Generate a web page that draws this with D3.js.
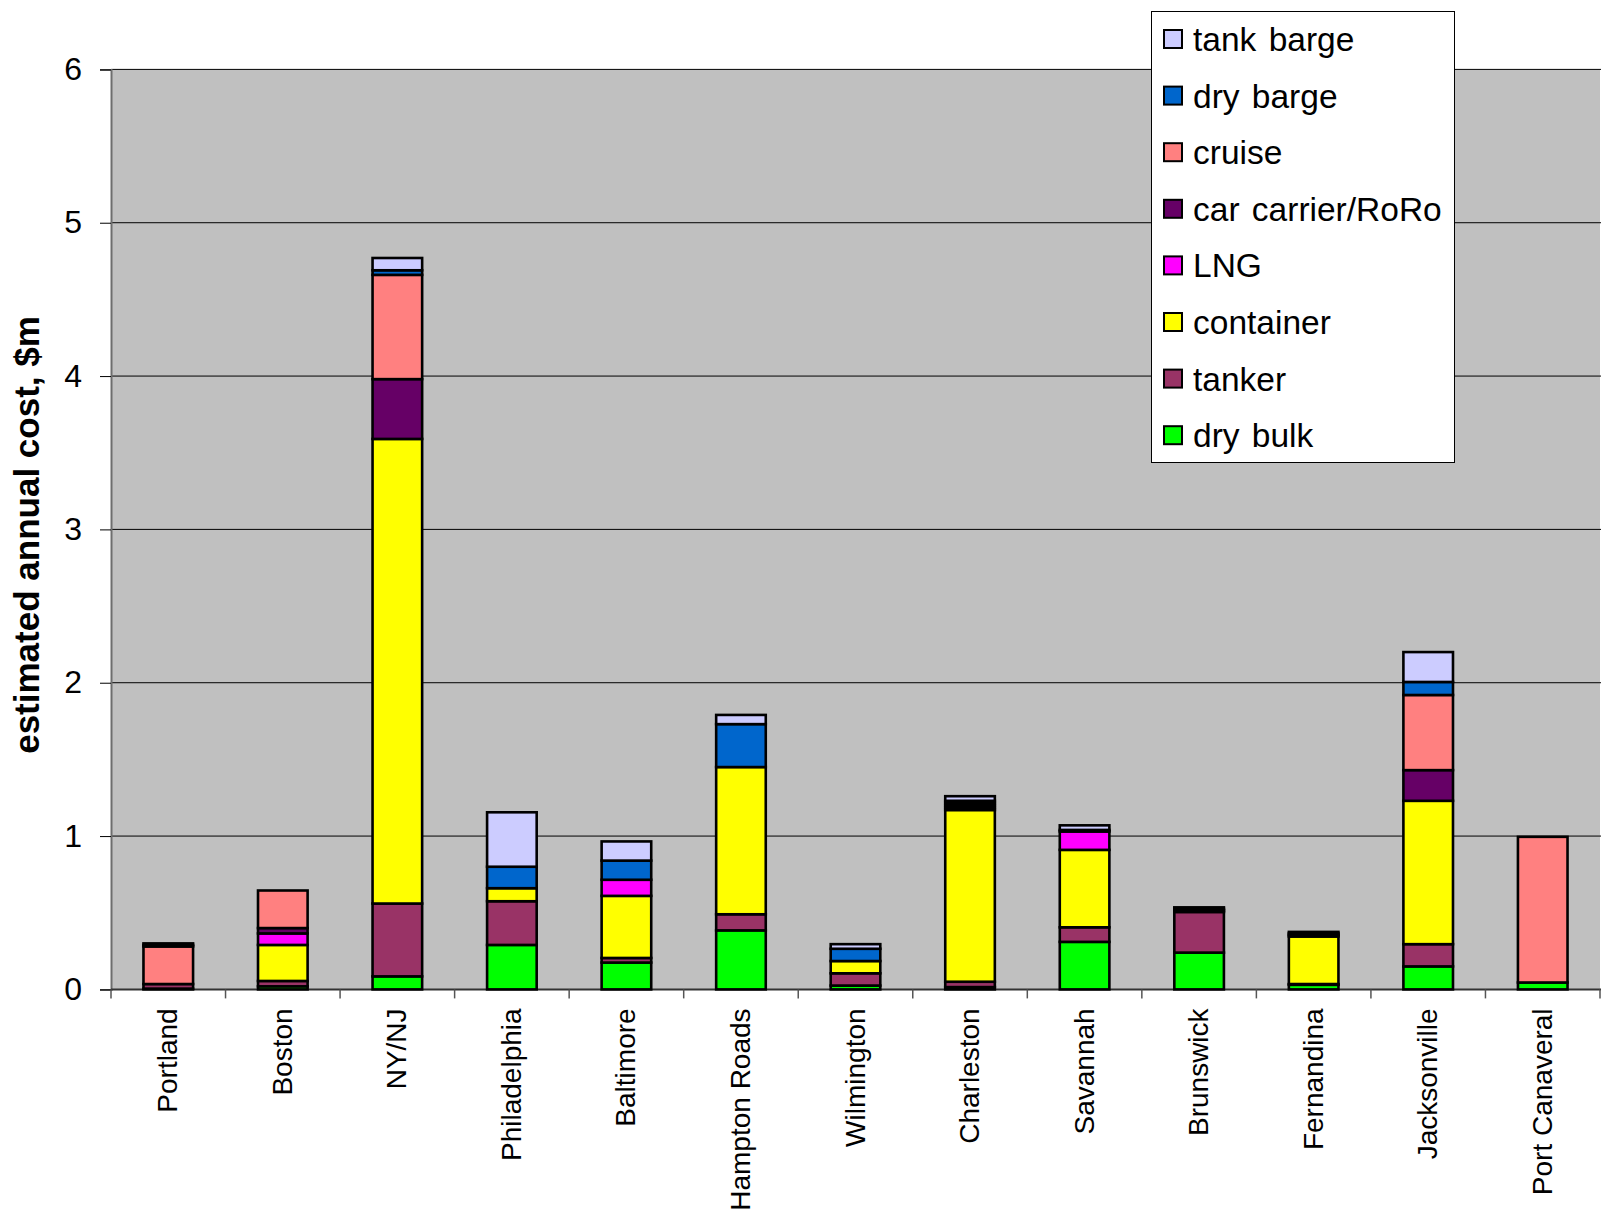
<!DOCTYPE html>
<html>
<head>
<meta charset="utf-8">
<script src="https://cdn.jsdelivr.net/npm/d3@7"></script>
<style>
  html, body { margin: 0; padding: 0; background: #fff; }
  svg { display: block; font-family: Arial, "Liberation Sans", sans-serif; }
</style>
</head>
<body>
<svg id="chart" width="1601" height="1221"></svg>
<script>
// Ports along the US East Coast, north to south
const ports = ["Portland", "Boston", "NY/NJ", "Philadelphia", "Baltimore", "Hampton Roads",
  "Wilmington", "Charleston", "Savannah", "Brunswick", "Fernandina", "Jacksonville", "Port Canaveral"];

// Estimated annual cost by vessel type, $m (one value per port)
const dryBulk    = [0.005, 0.02, 0.085, 0.29, 0.175, 0.385, 0.025, 0.015, 0.31, 0.24, 0.03, 0.15, 0.045];
const tanker     = [0.03, 0.035, 0.475, 0.285, 0.03, 0.105, 0.08, 0.035, 0.095, 0.265, 0.005, 0.145, 0];
const container  = [0, 0.235, 3.03, 0.085, 0.405, 0.96, 0.08, 1.12, 0.505, 0.01, 0.31, 0.935, 0];
const lng        = [0, 0.075, 0, 0, 0.105, 0, 0, 0.015, 0.12, 0, 0.01, 0, 0];
const carCarrier = [0, 0.035, 0.39, 0, 0, 0, 0, 0.015, 0, 0.01, 0.01, 0.2, 0];
const cruise     = [0.245, 0.245, 0.68, 0, 0, 0, 0, 0.015, 0, 0, 0, 0.49, 0.95];
const dryBarge   = [0.01, 0, 0.03, 0.14, 0.125, 0.28, 0.08, 0.015, 0.01, 0, 0, 0.085, 0];
const tankBarge  = [0.01, 0, 0.08, 0.355, 0.125, 0.06, 0.03, 0.03, 0.03, 0.01, 0.01, 0.195, 0];

// Series, bottom of the stack first
const seriesNames  = ["dry bulk", "tanker", "container", "LNG", "car carrier/RoRo", "cruise", "dry barge", "tank barge"];
const seriesValues = [dryBulk, tanker, container, lng, carCarrier, cruise, dryBarge, tankBarge];
const seriesColors = ["#00FF00", "#993366", "#FFFF00", "#FF00FF", "#660066", "#FF8080", "#0066CC", "#CCCCFF"];

const yTicks = [0, 1, 2, 3, 4, 5, 6];

const rows = ports.map((p, i) => {
  const r = { port: p };
  seriesNames.forEach((s, k) => { r[s] = seriesValues[k][i]; });
  return r;
});

const svg = d3.select("#chart");
const plot = { left: 111, right: 1600, top: 69.4, bottom: 989.4 };

const x = d3.scaleBand().domain(ports).range([plot.left, plot.right]).padding(0);
const y = d3.scaleLinear().domain([0, 6]).range([plot.bottom, plot.top]);
const color = d3.scaleOrdinal().domain(seriesNames).range(seriesColors);
const barW = x.bandwidth() * 0.433;

// Plot background
svg.append("rect")
  .attr("x", plot.left).attr("y", plot.top)
  .attr("width", plot.right - plot.left).attr("height", plot.bottom - plot.top)
  .attr("fill", "#C0C0C0");

// Horizontal gridlines
svg.append("g").selectAll("line").data(yTicks.slice(1)).join("line")
  .attr("x1", plot.left).attr("x2", plot.right + 1)
  .attr("y1", d => y(d)).attr("y2", d => y(d))
  .attr("stroke", "#000").attr("stroke-width", 1);

// Y axis
const yAxis = svg.append("g")
  .attr("transform", `translate(${plot.left},0)`)
  .call(d3.axisLeft(y).tickValues(yTicks).tickSize(11).tickPadding(18).tickFormat(d3.format("d")));
yAxis.select(".domain").attr("stroke", "#6e6e6e").attr("stroke-width", 2);
yAxis.selectAll(".tick line").attr("stroke", "#000");
yAxis.selectAll(".tick text").attr("font-size", 32).attr("fill", "#000")
  .attr("font-family", "Arial, 'Liberation Sans', sans-serif");

// X axis with ticks on category boundaries
const xAxisG = svg.append("g").attr("transform", `translate(0,${plot.bottom})`);
xAxisG.append("line")
  .attr("x1", plot.left).attr("x2", plot.right + 1)
  .attr("stroke", "#333").attr("stroke-width", 2);
xAxisG.selectAll("line.tk").data(d3.range(ports.length + 1)).join("line")
  .attr("class", "tk")
  .attr("x1", i => plot.left + i * x.step()).attr("x2", i => plot.left + i * x.step())
  .attr("y1", 0).attr("y2", 9)
  .attr("stroke", "#555").attr("stroke-width", 1.5);
xAxisG.selectAll("text").data(ports).join("text")
  .attr("transform", d => `translate(${x(d) + x.bandwidth() / 2 + 9},${19}) rotate(-90)`)
  .attr("text-anchor", "end")
  .attr("font-size", 28)
  .attr("fill", "#000")
  .text(d => d);

// Stacked bars
const stacked = d3.stack().keys(seriesNames)(rows);
const layers = svg.append("g").selectAll("g").data(stacked).join("g")
  .attr("fill", d => color(d.key));
layers.selectAll("rect")
  .data(d => d.filter(s => s[1] - s[0] > 0))
  .join("rect")
  .attr("x", d => x(d.data.port) + (x.bandwidth() - barW) / 2)
  .attr("width", barW)
  .attr("y", d => y(d[1]))
  .attr("height", d => y(d[0]) - y(d[1]))
  .attr("stroke", "#000")
  .attr("stroke-width", 2.6);

// Y axis title
svg.append("text")
  .attr("transform", `translate(39,${535}) rotate(-90)`)
  .attr("text-anchor", "middle")
  .attr("font-size", 35)
  .attr("font-weight", "bold")
  .attr("fill", "#000")
  .text("estimated annual cost, $m");

// Legend, top series first
const legend = svg.append("g");
legend.append("rect")
  .attr("x", 1151.5).attr("y", 11.5).attr("width", 303).attr("height", 451)
  .attr("fill", "#fff").attr("stroke", "#000").attr("stroke-width", 1);
const legendItems = seriesNames.slice().reverse();
const li = legend.selectAll("g.item").data(legendItems).join("g")
  .attr("class", "item")
  .attr("transform", (d, i) => `translate(1164,${39 + i * 56.6})`);
li.append("rect")
  .attr("x", 0).attr("y", -9).attr("width", 18).attr("height", 18)
  .attr("fill", d => color(d)).attr("stroke", "#000").attr("stroke-width", 2);
li.append("text")
  .attr("x", 29).attr("y", 0).attr("dy", "0.36em")
  .attr("font-size", 33.5)
  .attr("word-spacing", 3)
  .attr("fill", "#000")
  .text(d => d);
</script>
</body>
</html>
